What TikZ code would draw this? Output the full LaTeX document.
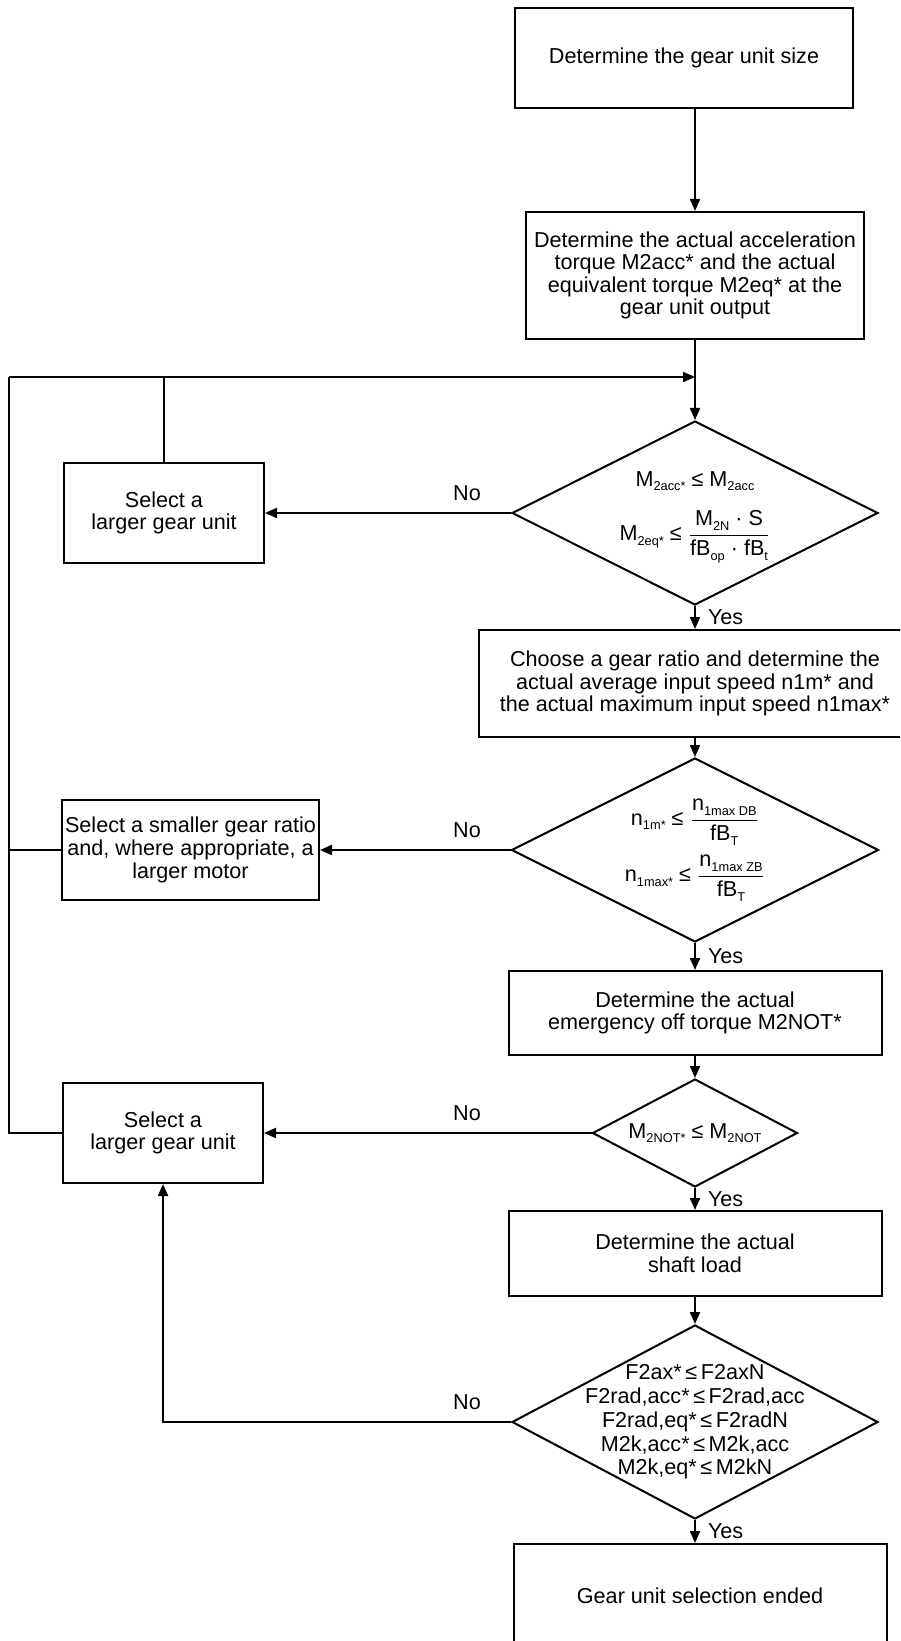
\documentclass[tikz,border=0pt]{standalone}
\usepackage{amsmath}
\usepackage{fontspec}
\setmainfont{Liberation Sans}
\usetikzlibrary{arrows.meta,shapes.geometric}
\newcommand{\sbx}[1]{\raisebox{-0.4ex}{\fontsize{6.4pt}{6.4pt}\selectfont #1}}

\begin{document}
\begin{tikzpicture}[x=0.5pt, y=-0.5pt, line width=1pt,
	every node/.style={font=\fontsize{10.8pt}{11.3pt}\selectfont},
	>={Triangle[length=6pt,width=5pt]},
	box/.style={draw, align=center, inner sep=0pt},
	decision/.style={draw, diamond, inner sep=0pt},
	cond/.style={align=center, inner sep=0pt},
	lbl/.style={inner sep=1pt}]
	\useasboundingbox (0,0) rectangle (900,1641);
	\clip (0,0) rectangle (900,1641);
	% main column
	\node[box, minimum width=169pt, minimum height=50pt] (size) at (684,58) {Determine the gear unit size};
	\node[box, minimum width=169pt, minimum height=63.5pt] (torque) at (695,275.5) {Determine the actual acceleration\\torque M2acc* and the actual\\equivalent torque M2eq* at the\\gear unit output};
	\node[decision, minimum width=183pt, minimum height=92pt] (d1) at (695,513) {};
	\node[cond, yshift=-2pt] (c1) at (d1) {M\sbx{2acc*} ≤ M\sbx{2acc}\\[9pt]
		M\sbx{2eq*} ≤ $\dfrac{\text{M\sbx{2N} · S}}{\text{fB\sbx{op} · fB\sbx{t}}}$};
	\node[box, minimum width=216pt, minimum height=53.5pt] (ratio) at (695,683.5) {Choose a gear ratio and determine the\\actual average input speed n1m* and\\the actual maximum input speed n1max*};
	\node[decision, minimum width=183.5pt, minimum height=92pt] (d2) at (695,850) {};
	\node[cond] (c2) at (d2) {n\sbx{1m*} ≤ $\dfrac{\text{n\sbx{1max DB}}}{\text{fB\sbx{T}}}$\\[4pt]
		n\sbx{1max*} ≤ $\dfrac{\text{n\sbx{1max ZB}}}{\text{fB\sbx{T}}}$};
	\node[box, minimum width=186.5pt, minimum height=42pt] (stop) at (695,1013) {Determine the actual\\emergency off torque M2NOT*};
	\node[decision, minimum width=102.5pt, minimum height=54pt] (d3) at (695,1133) {};
	\node[cond] (c3) at (d3) {M\sbx{2NOT*} ≤ M\sbx{2NOT}};
	\node[box, minimum width=186.5pt, minimum height=42.5pt] (shaft) at (695,1253.5) {Determine the actual\\shaft load};
	\node[decision, minimum width=183pt, minimum height=97pt] (d4) at (695,1422) {};
	\node[cond, font=\fontsize{10.8pt}{11.9pt}\selectfont] (c4) at (d4) {F2ax*\,≤\,F2axN\\F2rad,acc*\,≤\,F2rad,acc\\F2rad,eq*\,≤\,F2radN\\M2k,acc*\,≤\,M2k,acc\\M2k,eq*\,≤\,M2kN};
	\node[box, minimum width=186.5pt, minimum height=52pt] (done) at (700,1596) {Gear unit selection ended};
	% left column
	\node[box, minimum width=100pt, minimum height=50pt] (selA) at (164,513) {Select a\\larger gear unit};
	\node[box, minimum width=128.5pt, minimum height=50pt] (selB) at (190.5,850) {Select a smaller gear ratio\\and, where appropriate, a\\larger motor};
	\node[box, minimum width=100pt, minimum height=50pt] (selC) at (163,1133) {Select a\\larger gear unit};
	\coordinate (lt) at (9,377);
	\coordinate (lb) at (9,1133);

	\draw[->] (size.south -| torque) -- (torque.north);
	\draw[->] (torque.south) -- (d1.north);
	\draw[->] (d1.south) -- (ratio.north) node[lbl, midway, right=5pt] (yes1) {Yes};
	\draw[->] (ratio.south) -- (d2.north);
	\draw[->] (d2.south) -- (stop.north) node[lbl, midway, right=5pt] (yes2) {Yes};
	\draw[->] (stop.south) -- (d3.north);
	\draw[->] (d3.south) -- (shaft.north) node[lbl, midway, right=5pt] (yes3) {Yes};
	\draw[->] (shaft.south) -- (d4.north);
	\draw[->] (d4.south) -- (d4.south |- done.north) node[lbl, midway, right=5pt] (yes4) {Yes};

	\draw[->] (d1.west) -- (selA.east);
	\draw[->] (d2.west) -- (selB.east);
	\draw[->] (d3.west) -- (selC.east);
	\draw[->] (d4.west) -| (selC.south);
	\node[lbl, above=4.6pt] (no1) at (d1.west -| 467,0) {No};
	\node[lbl, above=4.6pt] (no2) at (d2.west -| 467,0) {No};
	\node[lbl, above=4.6pt] (no3) at (d3.west -| 467,0) {No};
	\node[lbl, above=4.6pt] (no4) at (d4.west -| 467,0) {No};

	% back to the first check
	\draw (selC.west) -- (lb) -- (lt);
	\draw (selB.west) -- (selB.west -| lt);
	\draw (selA.north) -- (selA.north |- lt);
	\draw[->] (lt) -- (lt -| torque.south);
\end{tikzpicture}
\end{document}
